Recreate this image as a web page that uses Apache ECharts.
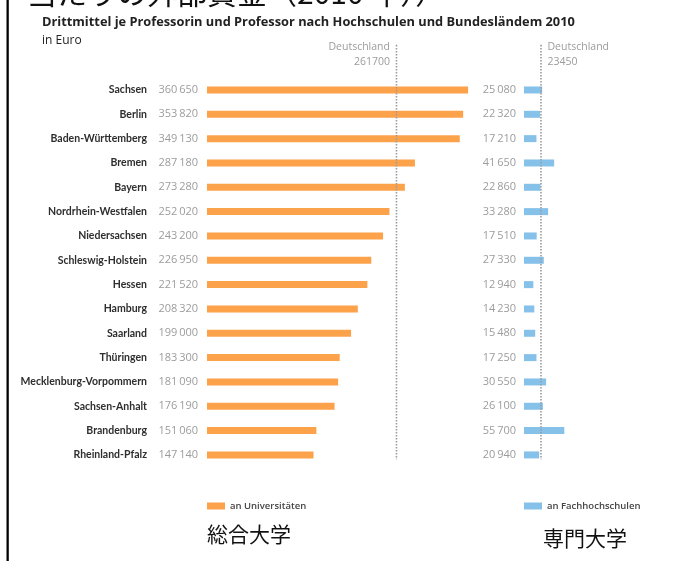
<!DOCTYPE html>
<html>
<head>
<meta charset="utf-8">
<script src="https://cdn.jsdelivr.net/npm/echarts@6/dist/echarts.min.js"></script>
<style>
  html, body { margin: 0; padding: 0; background: #fff; }
  #chart { width: 677px; height: 561px; }
</style>
</head>
<body>
<div id="chart"></div>
<script>
const categories = ['Sachsen','Berlin','Baden-Württemberg','Bremen','Bayern','Nordrhein-Westfalen','Niedersachsen','Schleswig-Holstein','Hessen','Hamburg','Saarland','Thüringen','Mecklenburg-Vorpommern','Sachsen-Anhalt','Brandenburg','Rheinland-Pfalz'];
const uniValues = [360650,353820,349130,287180,273280,252020,243200,226950,221520,208320,199000,183300,181090,176190,151060,147140];
const fhValues = [25080,22320,17210,41650,22860,33280,17510,27330,12940,14230,15480,17250,30550,26100,55700,20940];
const avgUni = 261700;
const avgFh = 23450;
const seriesNames = ['an Universitäten', 'an Fachhochschulen'];
const avgLabel = 'Deutschland';

const ORANGE = '#FBA24B';
const BLUE = '#86C1EA';
const GRAY = '#9c9c9c';
const FONT = '"Open Sans", "Noto Sans", sans-serif';
const NAMEFONT = 'Lato, "Open Sans", sans-serif';
const CJK = '"Noto Sans CJK JP", sans-serif';

function fmt(v) {
  const s = String(v);
  return s.length > 3 ? s.slice(0, s.length - 3) + '\u2009' + s.slice(s.length - 3) : s;
}

const chart = echarts.init(document.getElementById('chart'), null, { renderer: 'canvas' });

const rowTop = 77.8, rowH = 389.3;
const scale = 0.000724; // px per Euro (shared by both panels)
const uniMax = 400000, fhMax = 100000;

const option = {
  animation: false,
  textStyle: { fontFamily: FONT },
  title: [
    {
      text: 'Drittmittel je Professorin und Professor nach Hochschulen und Bundesländem 2010',
      left: 37, top: 11,
      textStyle: { fontFamily: FONT, fontSize: 12.8, fontWeight: 'bold', color: '#222' },
      subtext: 'in Euro',
      subtextStyle: { fontFamily: FONT, fontSize: 12, color: '#222' },
      itemGap: 6
    }
  ],
  graphic: [
    { type: 'rect', shape: { x: 6.5, y: 0, width: 2.3, height: 561 }, style: { fill: '#000' } },
    { type: 'text', left: 27, top: -22, style: { text: '当たりの外部資金（2010 年））', font: '30px ' + CJK, fill: '#111' } },
    { type: 'text', left: 207, top: 524, style: { text: '総合大学', font: '21px ' + CJK, fill: '#111' } },
    { type: 'text', left: 543, top: 528, style: { text: '専門大学', font: '21px ' + CJK, fill: '#111' } }
  ],
  legend: [
    {
      data: [seriesNames[0]], left: 207, top: 501, padding: 0, icon: 'rect', itemWidth: 18, itemHeight: 7,
      textStyle: { fontFamily: FONT, fontSize: 9.5, color: '#444', fontWeight: 600 }, selectedMode: false
    },
    {
      data: [seriesNames[1]], left: 524, top: 501, padding: 0, icon: 'rect', itemWidth: 18, itemHeight: 7,
      textStyle: { fontFamily: FONT, fontSize: 9.5, color: '#444', fontWeight: 600 }, selectedMode: false
    }
  ],
  grid: [
    { left: 207, top: rowTop, width: uniMax * scale, height: rowH, containLabel: false },
    { left: 524, top: rowTop, width: fhMax * scale, height: rowH, containLabel: false },
    { left: 207, top: 45, width: uniMax * scale, height: 414, containLabel: false },
    { left: 524, top: 45, width: fhMax * scale, height: 414, containLabel: false }
  ],
  xAxis: [
    { type: 'value', gridIndex: 0, min: 0, max: uniMax, show: false },
    { type: 'value', gridIndex: 1, min: 0, max: fhMax, show: false },
    { type: 'value', gridIndex: 2, min: 0, max: uniMax, show: false },
    { type: 'value', gridIndex: 3, min: 0, max: fhMax, show: false }
  ],
  yAxis: [
    {
      type: 'category', gridIndex: 0, data: categories, inverse: true,
      axisLine: { show: false }, axisTick: { show: false }, splitLine: { show: false },
      axisLabel: { margin: 60, fontFamily: NAMEFONT, fontSize: 10.5, fontWeight: 'bold', color: '#2e2e2e' }
    },
    {
      type: 'category', gridIndex: 1, data: categories, inverse: true,
      axisLine: { show: false }, axisTick: { show: false }, splitLine: { show: false },
      axisLabel: { show: false }
    },
    { type: 'value', gridIndex: 2, min: 0, max: 1, show: false },
    { type: 'value', gridIndex: 3, min: 0, max: 1, show: false }
  ],
  series: [
    {
      name: seriesNames[0], type: 'bar', xAxisIndex: 0, yAxisIndex: 0, data: uniValues,
      barWidth: 7, itemStyle: { color: ORANGE },
      label: { show: true, position: 'left', distance: 9, formatter: p => fmt(p.value), color: GRAY, fontSize: 11, fontFamily: FONT }
    },
    {
      name: seriesNames[1], type: 'bar', xAxisIndex: 1, yAxisIndex: 1, data: fhValues,
      barWidth: 7, itemStyle: { color: BLUE },
      label: { show: true, position: 'left', distance: 8, formatter: p => fmt(p.value), color: GRAY, fontSize: 11, fontFamily: FONT }
    },
    {
      type: 'line', xAxisIndex: 2, yAxisIndex: 2, z: 5,
      symbol: 'circle', symbolSize: 1, itemStyle: { color: GRAY },
      lineStyle: { color: GRAY, width: 1.6, type: [1.4, 1.6] },
      data: [
        { value: [avgUni, 1], label: { show: true, position: 'left', distance: 6, verticalAlign: 'top', offset: [0, -5], formatter: avgLabel + '\n' + avgUni, color: GRAY, fontSize: 10.5, lineHeight: 15, align: 'right', fontFamily: FONT } },
        { value: [avgUni, 0] }
      ]
    },
    {
      type: 'line', xAxisIndex: 3, yAxisIndex: 3, z: 5,
      symbol: 'circle', symbolSize: 1, itemStyle: { color: GRAY },
      lineStyle: { color: GRAY, width: 1.6, type: [1.4, 1.6] },
      data: [
        { value: [avgFh, 1], label: { show: true, position: 'right', distance: 6, verticalAlign: 'top', offset: [0, -5], formatter: avgLabel + '\n' + avgFh, color: GRAY, fontSize: 10.5, lineHeight: 15, align: 'left', fontFamily: FONT } },
        { value: [avgFh, 0] }
      ]
    }
  ]
};

chart.setOption(option);
</script>
</body>
</html>
